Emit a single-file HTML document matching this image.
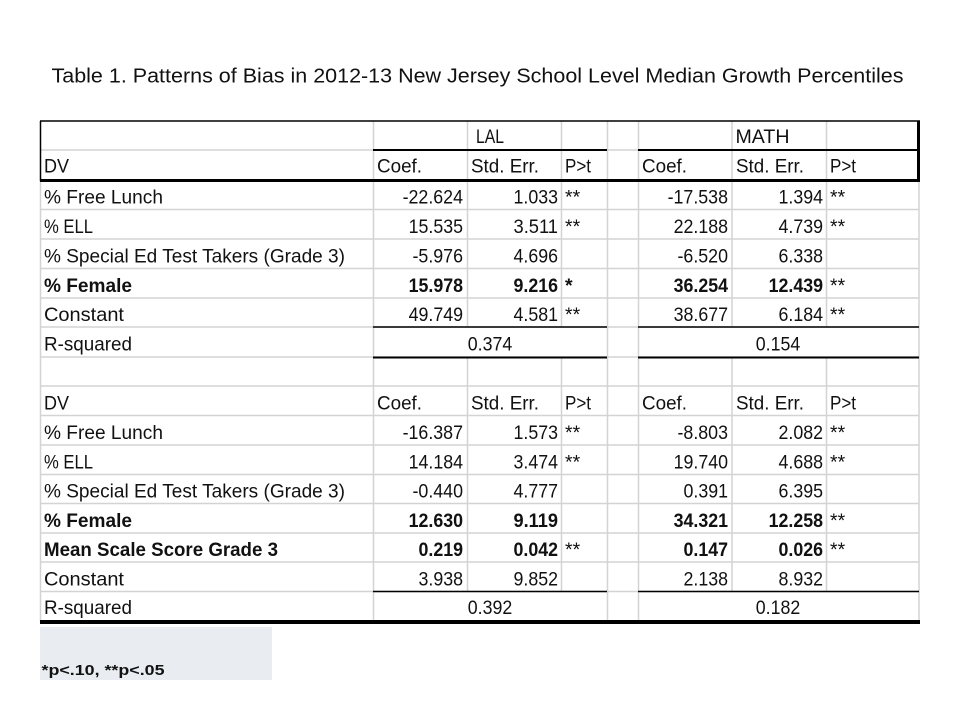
<!DOCTYPE html>
<html>
<head>
<meta charset="utf-8">
<style>
  html, body { margin: 0; padding: 0; background: #ffffff; }
  body { width: 960px; height: 720px; overflow: hidden; }
  svg { display: block; }
  text { font-family: "Liberation Sans", Arial, sans-serif; fill: #111; }
  .lab { font-size: 19.5px; }
  .num { font-size: 19.5px; }
  .b { font-weight: bold; }
</style>
</head>
<body>
<svg width="960" height="720" viewBox="0 0 960 720" xmlns="http://www.w3.org/2000/svg">
  <rect x="0" y="0" width="960" height="720" fill="#ffffff"/>

  <!-- Title -->
  <text x="51.5" y="82.5" style="font-size:20px" textLength="852" lengthAdjust="spacingAndGlyphs">Table 1. Patterns of Bias in 2012-13  New Jersey School Level Median Growth Percentiles</text>

  <!-- gray horizontal gridlines -->
  <g stroke="#d3d3d3" stroke-width="1.5">
    <line x1="40" y1="150" x2="919" y2="150"/>
    <line x1="40" y1="209.5" x2="919" y2="209.5"/>
    <line x1="40" y1="239" x2="919" y2="239"/>
    <line x1="40" y1="268.5" x2="919" y2="268.5"/>
    <line x1="40" y1="298" x2="919" y2="298"/>
    <line x1="40" y1="327" x2="919" y2="327"/>
    <line x1="40" y1="357" x2="919" y2="357"/>
    <line x1="40" y1="386" x2="919" y2="386"/>
    <line x1="40" y1="415.5" x2="919" y2="415.5"/>
    <line x1="40" y1="445" x2="919" y2="445"/>
    <line x1="40" y1="474.5" x2="919" y2="474.5"/>
    <line x1="40" y1="503.5" x2="919" y2="503.5"/>
    <line x1="40" y1="533" x2="919" y2="533"/>
    <line x1="40" y1="562" x2="919" y2="562"/>
    <line x1="40" y1="591.5" x2="919" y2="591.5"/>
  </g>

  <!-- gray vertical gridlines -->
  <g stroke="#d3d3d3" stroke-width="1.5">
    <line x1="40.5" y1="180" x2="40.5" y2="622"/>
    <line x1="373.5" y1="121" x2="373.5" y2="622"/>
    <line x1="467.5" y1="121" x2="467.5" y2="327"/>
    <line x1="467.5" y1="357" x2="467.5" y2="591.5"/>
    <line x1="561.5" y1="121" x2="561.5" y2="327"/>
    <line x1="561.5" y1="357" x2="561.5" y2="591.5"/>
    <line x1="607.5" y1="121" x2="607.5" y2="622"/>
    <line x1="638.5" y1="121" x2="638.5" y2="622"/>
    <line x1="732" y1="121" x2="732" y2="327"/>
    <line x1="732" y1="357" x2="732" y2="591.5"/>
    <line x1="826.5" y1="121" x2="826.5" y2="327"/>
    <line x1="826.5" y1="357" x2="826.5" y2="591.5"/>
    <line x1="919" y1="180" x2="919" y2="622"/>
  </g>

  <!-- black borders -->
  <g stroke="#000">
    <line x1="40" y1="121" x2="920" y2="121" stroke-width="1.5"/>
    <line x1="40.5" y1="121" x2="40.5" y2="181" stroke-width="1.5"/>
    <line x1="918.5" y1="121" x2="918.5" y2="182" stroke-width="3"/>
    <line x1="373" y1="150" x2="607" y2="150" stroke-width="2"/>
    <line x1="638" y1="150" x2="920" y2="150" stroke-width="2"/>
    <line x1="40" y1="180.5" x2="920" y2="180.5" stroke-width="3"/>
    <line x1="373" y1="327" x2="607" y2="327" stroke-width="1.5"/>
    <line x1="638" y1="327" x2="919" y2="327" stroke-width="1.5"/>
    <line x1="373" y1="357.5" x2="607" y2="357.5" stroke-width="2"/>
    <line x1="638" y1="357.5" x2="919" y2="357.5" stroke-width="2"/>
    <line x1="373" y1="591.5" x2="607" y2="591.5" stroke-width="1.5"/>
    <line x1="638" y1="591.5" x2="919" y2="591.5" stroke-width="1.5"/>
    <line x1="40" y1="622" x2="920" y2="622" stroke-width="4"/>
  </g>

  <!-- Header row -->
  <text class="lab" x="490" y="143" text-anchor="middle" textLength="28" lengthAdjust="spacingAndGlyphs">LAL</text>
  <text class="lab" x="762.5" y="143" text-anchor="middle" textLength="54" lengthAdjust="spacingAndGlyphs">MATH</text>

  <!-- DV row 1 -->
  <g class="lab">
    <text x="44" y="172.5" textLength="25" lengthAdjust="spacingAndGlyphs">DV</text>
    <text x="377" y="172.5" textLength="45" lengthAdjust="spacingAndGlyphs">Coef.</text>
    <text x="471" y="172.5" textLength="68" lengthAdjust="spacingAndGlyphs">Std. Err.</text>
    <text x="565" y="172.5" textLength="26" lengthAdjust="spacingAndGlyphs">P&gt;t</text>
    <text x="642" y="172.5" textLength="45" lengthAdjust="spacingAndGlyphs">Coef.</text>
    <text x="736" y="172.5" textLength="68" lengthAdjust="spacingAndGlyphs">Std. Err.</text>
    <text x="830" y="172.5" textLength="26" lengthAdjust="spacingAndGlyphs">P&gt;t</text>
  </g>

  <!-- Section 1 labels -->
  <g class="lab">
    <text x="44" y="203.5" textLength="119" lengthAdjust="spacingAndGlyphs">% Free Lunch</text>
    <text x="44" y="233" textLength="49" lengthAdjust="spacingAndGlyphs">% ELL</text>
    <text x="44" y="262.5" textLength="301" lengthAdjust="spacingAndGlyphs">% Special Ed Test Takers (Grade 3)</text>
    <text x="44" y="292" class="b" textLength="88" lengthAdjust="spacingAndGlyphs">% Female</text>
    <text x="44" y="321" textLength="80" lengthAdjust="spacingAndGlyphs">Constant</text>
    <text x="44" y="350.5" textLength="88" lengthAdjust="spacingAndGlyphs">R-squared</text>
  </g>

  <!-- Section 1 numbers -->
  <g class="num" text-anchor="end" lengthAdjust="spacingAndGlyphs">
    <text x="463" y="203.5" textLength="60.4" lengthAdjust="spacingAndGlyphs">-22.624</text>
    <text x="558" y="203.5" textLength="44.5" lengthAdjust="spacingAndGlyphs">1.033</text>
    <text x="728" y="203.5" textLength="60.4" lengthAdjust="spacingAndGlyphs">-17.538</text>
    <text x="823" y="203.5" textLength="44.5" lengthAdjust="spacingAndGlyphs">1.394</text>

    <text x="463" y="233" textLength="54.4" lengthAdjust="spacingAndGlyphs">15.535</text>
    <text x="558" y="233" textLength="44.5" lengthAdjust="spacingAndGlyphs">3.511</text>
    <text x="728" y="233" textLength="54.4" lengthAdjust="spacingAndGlyphs">22.188</text>
    <text x="823" y="233" textLength="44.5" lengthAdjust="spacingAndGlyphs">4.739</text>

    <text x="463" y="262.5" textLength="50.5" lengthAdjust="spacingAndGlyphs">-5.976</text>
    <text x="558" y="262.5" textLength="44.5" lengthAdjust="spacingAndGlyphs">4.696</text>
    <text x="728" y="262.5" textLength="50.5" lengthAdjust="spacingAndGlyphs">-6.520</text>
    <text x="823" y="262.5" textLength="44.5" lengthAdjust="spacingAndGlyphs">6.338</text>

    <text x="463" y="292" class="b" textLength="54.4" lengthAdjust="spacingAndGlyphs">15.978</text>
    <text x="558" y="292" class="b" textLength="44.5" lengthAdjust="spacingAndGlyphs">9.216</text>
    <text x="728" y="292" class="b" textLength="54.4" lengthAdjust="spacingAndGlyphs">36.254</text>
    <text x="823" y="292" class="b" textLength="54.4" lengthAdjust="spacingAndGlyphs">12.439</text>

    <text x="463" y="321" textLength="54.4" lengthAdjust="spacingAndGlyphs">49.749</text>
    <text x="558" y="321" textLength="44.5" lengthAdjust="spacingAndGlyphs">4.581</text>
    <text x="728" y="321" textLength="54.4" lengthAdjust="spacingAndGlyphs">38.677</text>
    <text x="823" y="321" textLength="44.5" lengthAdjust="spacingAndGlyphs">6.184</text>
  </g>
  <g class="num">
    <text x="565" y="203.5">**</text><text x="830" y="203.5">**</text>
    <text x="565" y="233">**</text><text x="830" y="233">**</text>
    <text x="565" y="292" class="b">*</text><text x="830" y="292">**</text>
    <text x="565" y="321">**</text><text x="830" y="321">**</text>
  </g>
  <g class="num" text-anchor="middle">
    <text x="490" y="350.5" textLength="44.5" lengthAdjust="spacingAndGlyphs">0.374</text>
    <text x="778" y="350.5" textLength="44.5" lengthAdjust="spacingAndGlyphs">0.154</text>
  </g>

  <!-- DV row 2 -->
  <g class="lab">
    <text x="44" y="409.5" textLength="25" lengthAdjust="spacingAndGlyphs">DV</text>
    <text x="377" y="409.5" textLength="45" lengthAdjust="spacingAndGlyphs">Coef.</text>
    <text x="471" y="409.5" textLength="68" lengthAdjust="spacingAndGlyphs">Std. Err.</text>
    <text x="565" y="409.5" textLength="26" lengthAdjust="spacingAndGlyphs">P&gt;t</text>
    <text x="642" y="409.5" textLength="45" lengthAdjust="spacingAndGlyphs">Coef.</text>
    <text x="736" y="409.5" textLength="68" lengthAdjust="spacingAndGlyphs">Std. Err.</text>
    <text x="830" y="409.5" textLength="26" lengthAdjust="spacingAndGlyphs">P&gt;t</text>
  </g>

  <!-- Section 2 labels -->
  <g class="lab">
    <text x="44" y="439" textLength="119" lengthAdjust="spacingAndGlyphs">% Free Lunch</text>
    <text x="44" y="468.5" textLength="49" lengthAdjust="spacingAndGlyphs">% ELL</text>
    <text x="44" y="497.5" textLength="301" lengthAdjust="spacingAndGlyphs">% Special Ed Test Takers (Grade 3)</text>
    <text x="44" y="527" class="b" textLength="88" lengthAdjust="spacingAndGlyphs">% Female</text>
    <text x="44" y="556" class="b" textLength="234" lengthAdjust="spacingAndGlyphs">Mean Scale Score Grade 3</text>
    <text x="44" y="585.5" textLength="80" lengthAdjust="spacingAndGlyphs">Constant</text>
    <text x="44" y="614" textLength="88" lengthAdjust="spacingAndGlyphs">R-squared</text>
  </g>

  <!-- Section 2 numbers -->
  <g class="num" text-anchor="end">
    <text x="463" y="439" textLength="60.4" lengthAdjust="spacingAndGlyphs">-16.387</text>
    <text x="558" y="439" textLength="44.5" lengthAdjust="spacingAndGlyphs">1.573</text>
    <text x="728" y="439" textLength="50.5" lengthAdjust="spacingAndGlyphs">-8.803</text>
    <text x="823" y="439" textLength="44.5" lengthAdjust="spacingAndGlyphs">2.082</text>

    <text x="463" y="468.5" textLength="54.4" lengthAdjust="spacingAndGlyphs">14.184</text>
    <text x="558" y="468.5" textLength="44.5" lengthAdjust="spacingAndGlyphs">3.474</text>
    <text x="728" y="468.5" textLength="54.4" lengthAdjust="spacingAndGlyphs">19.740</text>
    <text x="823" y="468.5" textLength="44.5" lengthAdjust="spacingAndGlyphs">4.688</text>

    <text x="463" y="497.5" textLength="50.5" lengthAdjust="spacingAndGlyphs">-0.440</text>
    <text x="558" y="497.5" textLength="44.5" lengthAdjust="spacingAndGlyphs">4.777</text>
    <text x="728" y="497.5" textLength="44.5" lengthAdjust="spacingAndGlyphs">0.391</text>
    <text x="823" y="497.5" textLength="44.5" lengthAdjust="spacingAndGlyphs">6.395</text>

    <text x="463" y="527" class="b" textLength="54.4" lengthAdjust="spacingAndGlyphs">12.630</text>
    <text x="558" y="527" class="b" textLength="44.5" lengthAdjust="spacingAndGlyphs">9.119</text>
    <text x="728" y="527" class="b" textLength="54.4" lengthAdjust="spacingAndGlyphs">34.321</text>
    <text x="823" y="527" class="b" textLength="54.4" lengthAdjust="spacingAndGlyphs">12.258</text>

    <text x="463" y="556" class="b" textLength="44.5" lengthAdjust="spacingAndGlyphs">0.219</text>
    <text x="558" y="556" class="b" textLength="44.5" lengthAdjust="spacingAndGlyphs">0.042</text>
    <text x="728" y="556" class="b" textLength="44.5" lengthAdjust="spacingAndGlyphs">0.147</text>
    <text x="823" y="556" class="b" textLength="44.5" lengthAdjust="spacingAndGlyphs">0.026</text>

    <text x="463" y="585.5" textLength="44.5" lengthAdjust="spacingAndGlyphs">3.938</text>
    <text x="558" y="585.5" textLength="44.5" lengthAdjust="spacingAndGlyphs">9.852</text>
    <text x="728" y="585.5" textLength="44.5" lengthAdjust="spacingAndGlyphs">2.138</text>
    <text x="823" y="585.5" textLength="44.5" lengthAdjust="spacingAndGlyphs">8.932</text>
  </g>
  <g class="num">
    <text x="565" y="439">**</text><text x="830" y="439">**</text>
    <text x="565" y="468.5">**</text><text x="830" y="468.5">**</text>
    <text x="830" y="527">**</text>
    <text x="565" y="556">**</text><text x="830" y="556">**</text>
  </g>
  <g class="num" text-anchor="middle">
    <text x="490" y="614" textLength="44.5" lengthAdjust="spacingAndGlyphs">0.392</text>
    <text x="778" y="614" textLength="44.5" lengthAdjust="spacingAndGlyphs">0.182</text>
  </g>

  <!-- Footnote box -->
  <rect x="40" y="627" width="232" height="53" fill="#e9edf2"/>
  <text x="41.5" y="675" class="b" style="font-size:14.5px" textLength="123" lengthAdjust="spacingAndGlyphs">*p&lt;.10, **p&lt;.05</text>
</svg>
</body>
</html>
